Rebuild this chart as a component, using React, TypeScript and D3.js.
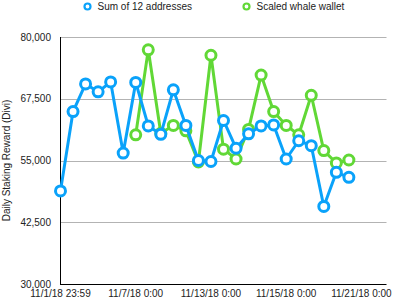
import React from "react";
import * as d3 from "d3";

const xTickIndex = [0, 6, 12, 18, 24];
const xTickLabels = ["11/1/18 23:59", "11/7/18 0:00", "11/13/18 0:00", "11/15/18 0:00", "11/21/18 0:00"];
const yTicks = [30000, 42500, 55000, 67500, 80000];

const sumIndex = d3.range(0, 24);
const sumValues = [48850, 64900, 70500, 68900, 70900, 56500, 70800, 62000, 60300, 69300, 62100, 55000, 54800, 63100, 57500, 60400, 62000, 62200, 55300, 59000, 58000, 45700, 52600, 51600];

const whaleIndex = d3.range(6, 24);
const whaleValues = [60200, 77400, 60500, 62100, 61000, 54700, 76300, 57300, 55300, 61300, 72300, 64900, 62100, 60200, 68200, 57000, 54500, 55100];

const BLUE = "#0aa2fa";
const GREEN = "#61d836";
const FONT = "'Liberation Sans', Arial, Helvetica, sans-serif";

export default function App() {
  const W = 394, H = 300;
  const x = d3.scaleLinear().domain([0, 26]).range([60.5, 386.5]);
  const y = d3.scaleLinear().domain([30000, 80000]).range([284, 37]);
  const line = d3.line<[number, number]>().x(d => x(d[0])).y(d => y(d[1]));

  const sumPts: [number, number][] = sumIndex.map((i, k) => [i, sumValues[k]]);
  const whalePts: [number, number][] = whaleIndex.map((i, k) => [i, whaleValues[k]]);

  const series = [
    { pts: whalePts, color: GREEN },
    { pts: sumPts, color: BLUE },
  ];

  return (
    <div style={{ position: "absolute", left: 0, top: 0 }}>
      <svg width={W} height={H} style={{ display: "block", fontFamily: FONT }}>
        <rect width={W} height={H} fill="#fff" />
        {yTicks.slice(1).map(t => (
          <line key={t} x1={x(0)} x2={x(26)} y1={Math.round(y(t)) + 0.5} y2={Math.round(y(t)) + 0.5} stroke="#b3b3b3" strokeWidth={1} />
        ))}
        <line x1={x(0)} x2={x(0)} y1={Math.round(y(80000))} y2={y(30000) + 0.5} stroke="#000" strokeWidth={1} />
        <line x1={x(0) - 0.5} x2={x(26)} y1={y(30000) + 0.5} y2={y(30000) + 0.5} stroke="#000" strokeWidth={1} />
        {yTicks.map(t => (
          <text key={t} x={51} y={y(t)} dy="0.35em" textAnchor="end" fontSize={10} fill="#222">
            {d3.format(",")(t)}
          </text>
        ))}
        {xTickIndex.map((i, k) => (
          <text key={i} x={x(i)} y={297} textAnchor="middle" fontSize={10} fill="#222">
            {xTickLabels[k]}
          </text>
        ))}
        <text transform={`translate(10,${(y(30000) + y(80000)) / 2}) rotate(-90)`} textAnchor="middle" fontSize={10} fill="#222">
          Daily Staking Reward (Divi)
        </text>
        {series.map((s, si) => (
          <g key={si}>
            <path d={line(s.pts) || ""} fill="none" stroke={s.color} strokeWidth={3} strokeLinejoin="round" />
            {s.pts.map((p, k) => (
              <circle key={k} cx={x(p[0])} cy={y(p[1])} r={5} fill="#fff" stroke={s.color} strokeWidth={3} />
            ))}
          </g>
        ))}
        <g>
          <circle cx={87.5} cy={6.5} r={3} fill="#fff" stroke={BLUE} strokeWidth={2.2} />
          <text x={97.5} y={10} fontSize={10} fill="#222">Sum of 12 addresses</text>
          <circle cx={246.5} cy={6.5} r={3} fill="#fff" stroke={GREEN} strokeWidth={2.2} />
          <text x={256.5} y={10} fontSize={10} fill="#222">Scaled whale wallet</text>
        </g>
      </svg>
    </div>
  );
}
